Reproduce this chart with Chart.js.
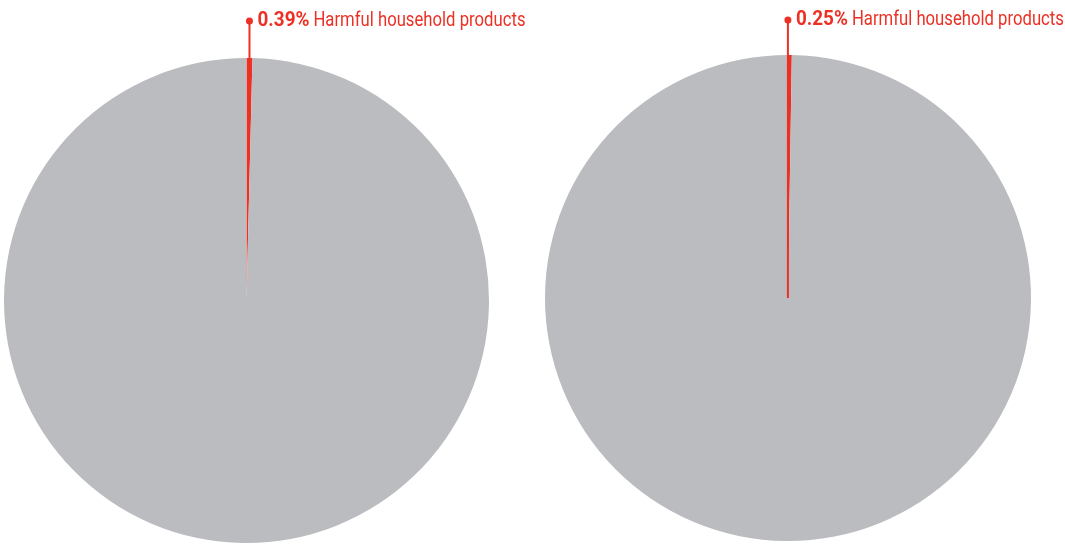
<!DOCTYPE html>
<html>
<head>
<meta charset="utf-8">
<script src="https://cdn.jsdelivr.net/npm/chart.js@4"></script>
<style>
  html, body { margin: 0; padding: 0; background: #fff; overflow: hidden; }
  .box { position: absolute; top: 0; width: 530px; height: 544px; }
</style>
</head>
<body>
<div class="box" style="left:0"><canvas id="graficoIzq"></canvas></div>
<div class="box" style="left:535px"><canvas id="graficoDer"></canvas></div>
<script>
// datos
var categorias = ['Harmful household products', 'Other'];
var valoresIzq = [0.39, 99.61];
var valoresDer = [0.25, 99.75];
var colores = ['#ED3024', '#BBBCBF'];

var FUENTE = 'Roboto, "Liberation Sans", sans-serif';
// letra condensada
var ESCALA_NEGRITA = 0.9;
var ESCALA_NORMAL = 0.795;

// etiqueta con linea guia para el primer sector
var etiquetaPlugin = {
  id: 'etiqueta',
  afterDatasetsDraw: function (chart, args, opts) {
    var arc = chart.getDatasetMeta(0).data[0];
    var p = arc.getProps(['x', 'y', 'outerRadius', 'startAngle', 'endAngle'], true);
    var mid = (p.startAngle + p.endAngle) / 2;
    var px = p.x + Math.cos(mid) * p.outerRadius + opts.dx;
    var py = p.y + Math.sin(mid) * p.outerRadius;
    var ly = chart.chartArea.top - opts.gap;
    var ctx = chart.ctx;
    ctx.save();
    ctx.strokeStyle = colores[0];
    ctx.fillStyle = colores[0];
    ctx.lineWidth = 2;
    ctx.beginPath();
    ctx.moveTo(px, ly);
    ctx.lineTo(px, opts.toCenter ? p.y : py + 4);
    ctx.stroke();
    ctx.beginPath();
    ctx.arc(px, ly, 3.5, 0, Math.PI * 2);
    ctx.fill();

    // texto
    ctx.textBaseline = 'alphabetic';
    var pct = chart.data.datasets[0].data[0].toFixed(2) + '%';
    ctx.font = 'bold 21px ' + FUENTE;
    var w = ctx.measureText(pct).width * ESCALA_NEGRITA;
    ctx.save();
    ctx.translate(px + 8, ly + 4.5);
    ctx.scale(ESCALA_NEGRITA, 1);
    ctx.fillText(pct, 0, 0);
    ctx.restore();
    ctx.font = '21px ' + FUENTE;
    ctx.translate(px + 8 + w + 4, ly + 4.5);
    ctx.scale(ESCALA_NORMAL, 1);
    ctx.fillText(chart.data.labels[0], 0, 0);
    ctx.restore();
  }
};

function crearPie(id, datos, padding, gap, toCenter, dx) {
  var ctx = document.getElementById(id).getContext('2d');
  return new Chart(ctx, {
    type: 'pie',
    data: {
      labels: categorias,
      datasets: [{
        data: datos,
        backgroundColor: colores,
        borderWidth: 0
      }]
    },
    options: {
      responsive: true,
      maintainAspectRatio: false,
      animation: false,
      layout: { padding: padding },
      plugins: {
        legend: { display: false },
        tooltip: { enabled: false },
        etiqueta: { gap: gap, toCenter: toCenter, dx: dx }
      }
    },
    plugins: [etiquetaPlugin]
  });
}

var graficoIzq = crearPie('graficoIzq', valoresIzq, { left: 4, right: 41, top: 58, bottom: 1 }, 37, false, 0);
var graficoDer = crearPie('graficoDer', valoresDer, { left: 10, right: 34, top: 55, bottom: 3 }, 35, true, -2);
</script>
</body>
</html>
